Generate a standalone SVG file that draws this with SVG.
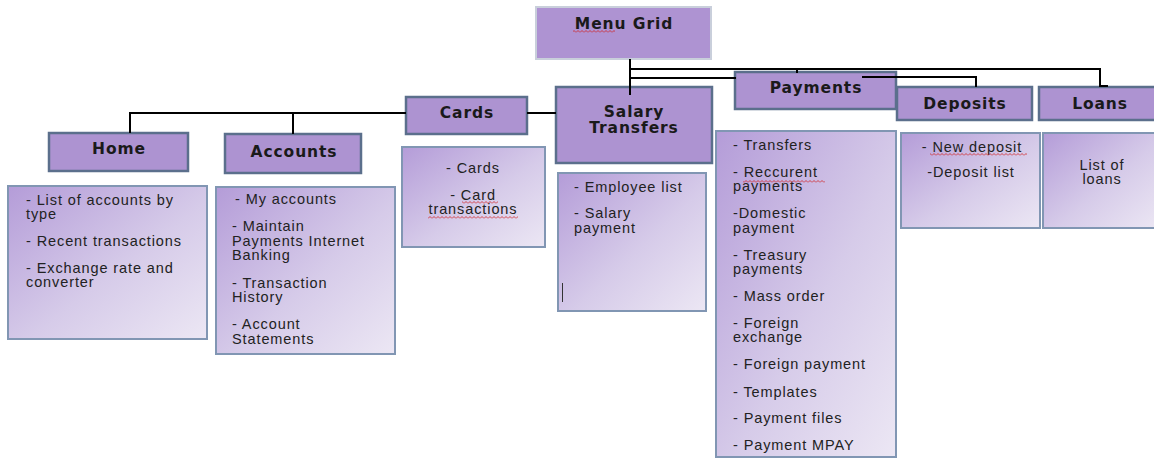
<svg xmlns="http://www.w3.org/2000/svg" width="1154" height="459" viewBox="0 0 1154 459">
<style>
.hd{fill:#ad93d1;stroke:#5b6f8c;stroke-width:2.5}
.ct{fill:url(#g);stroke:#8196b3;stroke-width:2}
.ht{font-family:"DejaVu Sans",sans-serif;font-weight:bold;font-size:15.5px;letter-spacing:0.9px;fill:#1a1a1a;text-anchor:middle}
.bt{font-family:"Liberation Sans",Arial,sans-serif;font-size:14.5px;letter-spacing:0.9px;fill:#222}
.mid{text-anchor:middle}
.cn{fill:none;stroke:#000;stroke-width:2}
.sq{fill:url(#sq)}
</style>
<defs>
<linearGradient id="g" x1="0" y1="0" x2="1" y2="1">
<stop offset="0" stop-color="#b49cd8"/>
<stop offset="0.55" stop-color="#d6cbe9"/>
<stop offset="1" stop-color="#ece7f4"/>
</linearGradient>
<pattern id="sq" patternUnits="userSpaceOnUse" width="4" height="3">
<path d="M0,2.5 L2,0.5 L4,2.5" fill="none" stroke="#d02020" stroke-width="0.8"/>
</pattern>
</defs>
<g id="nodes">
<g id="menu"><rect x="536" y="7" width="175" height="52" fill="#ae93d2" stroke="#c9cfdb" stroke-width="2"/><text class="ht" x="624" y="29">Menu Grid</text><rect class="sq" x="573" y="30" width="42" height="3"/></g>
<g id="home"><rect class="hd" x="49" y="133" width="139" height="38"/><text class="ht" x="119" y="154">Home</text></g>
<g id="home-items"><rect class="ct" x="8" y="186" width="199" height="153"/>
<text class="bt" x="26" y="205">- List of accounts by</text><text class="bt" x="26" y="219">type</text>
<text class="bt" x="26" y="246">- Recent transactions</text>
<text class="bt" x="26" y="273">- Exchange rate and</text><text class="bt" x="26" y="287">converter</text></g>
<g id="accounts"><rect class="hd" x="225" y="134" width="136" height="39"/><text class="ht" x="294" y="157">Accounts</text></g>
<g id="accounts-items"><rect class="ct" x="216" y="187" width="179" height="167"/>
<text class="bt" x="235" y="204">- My accounts</text>
<text class="bt" x="232" y="231">- Maintain</text><text class="bt" x="232" y="246">Payments Internet</text><text class="bt" x="232" y="260">Banking</text>
<text class="bt" x="232" y="288">- Transaction</text><text class="bt" x="232" y="302">History</text>
<text class="bt" x="232" y="329">- Account</text><text class="bt" x="232" y="344">Statements</text></g>
<g id="cards"><rect class="hd" x="406" y="97" width="121" height="37"/><text class="ht" x="467" y="118">Cards</text></g>
<g id="cards-items"><rect class="ct" x="402" y="147" width="143" height="100"/>
<text class="bt mid" x="473" y="173">- Cards</text>
<text class="bt mid" x="473" y="200">- Card</text><text class="bt mid" x="473" y="214">transactions</text>
<rect class="sq" x="462" y="201" width="36" height="3"/><rect class="sq" x="428" y="216" width="90" height="3"/></g>
<g id="salary"><rect class="hd" x="556" y="87" width="156" height="76"/><text class="ht" x="634" y="117">Salary</text><text class="ht" x="634" y="133">Transfers</text></g>
<g id="salary-items"><rect class="ct" x="558" y="173" width="148" height="138"/>
<text class="bt" x="574" y="192">- Employee list</text>
<text class="bt" x="574" y="218">- Salary</text><text class="bt" x="574" y="233">payment</text>
<line x1="562.5" y1="283" x2="562.5" y2="302" stroke="#333" stroke-width="1"/></g>
<g id="payments"><rect class="hd" x="735" y="72" width="161" height="37"/><text class="ht" x="816" y="93">Payments</text></g>
<g id="payments-items"><rect class="ct" x="716" y="131" width="180" height="326"/>
<text class="bt" x="733" y="150">- Transfers</text>
<text class="bt" x="733" y="177">- Reccurent</text><text class="bt" x="733" y="191">payments</text>
<rect class="sq" x="743" y="180" width="82" height="3"/>
<text class="bt" x="733" y="218">-Domestic</text><text class="bt" x="733" y="233">payment</text>
<text class="bt" x="733" y="260">- Treasury</text><text class="bt" x="733" y="274">payments</text>
<text class="bt" x="733" y="301">- Mass order</text>
<text class="bt" x="733" y="328">- Foreign</text><text class="bt" x="733" y="342">exchange</text>
<text class="bt" x="733" y="369">- Foreign payment</text>
<text class="bt" x="733" y="397">- Templates</text>
<text class="bt" x="733" y="423">- Payment files</text>
<text class="bt" x="733" y="450">- Payment MPAY</text></g>
<g id="deposits"><rect class="hd" x="897" y="87" width="135" height="33"/><text class="ht" x="965" y="109">Deposits</text></g>
<g id="deposits-items"><rect class="ct" x="901" y="133" width="139" height="95"/>
<text class="bt mid" x="972" y="152">- New deposit</text><rect class="sq" x="930" y="153" width="97" height="3"/>
<text class="bt mid" x="971" y="177">-Deposit list</text></g>
<g id="loans"><rect class="hd" x="1039" y="87" width="120" height="33"/><text class="ht" x="1100" y="109">Loans</text></g>
<g id="loans-items"><rect class="ct" x="1043" y="133" width="116" height="95"/>
<text class="bt mid" x="1102" y="170">List of</text><text class="bt mid" x="1102" y="184">loans</text></g>
</g>
<g id="connectors">
<path class="cn" d="M630,59 V95"/>
<path class="cn" d="M630,69 H1100 V86 H1108"/>
<path class="cn" d="M797,69 V73"/>
<path class="cn" d="M630,78 H736"/>
<path class="cn" d="M862,77 H976 V87"/>
<path class="cn" d="M527,113 H556"/>
<path class="cn" d="M406,113 H130 V133"/>
<path class="cn" d="M293,113 V134"/>
</g>
</svg>
